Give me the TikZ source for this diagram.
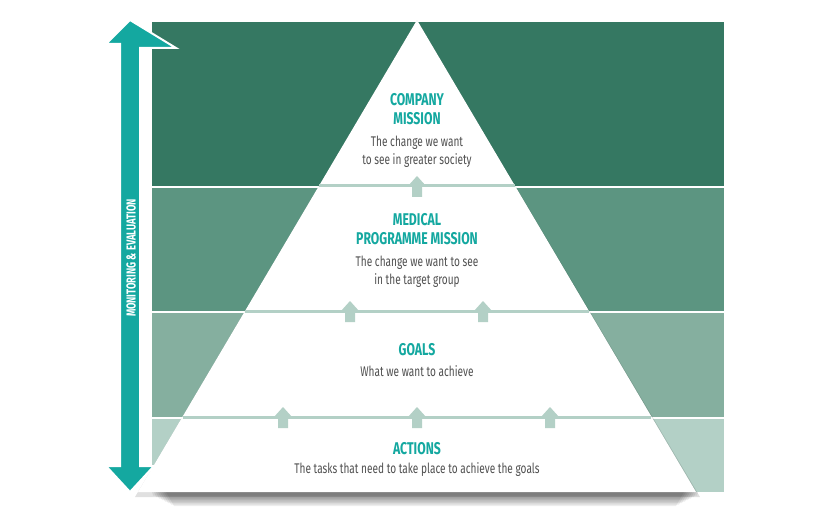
\documentclass[tikz,border=0pt]{standalone}
\usepackage{fontspec}
\setmainfont{Fira Sans}[FakeStretch=0.72]
\usetikzlibrary{positioning}
\definecolor{bandA}{HTML}{357862}
\definecolor{bandB}{HTML}{5C9581}
\definecolor{bandC}{HTML}{85AF9F}
\definecolor{bandD}{HTML}{B3D0C6}
\definecolor{teal}{HTML}{14A8A0}
\definecolor{body}{HTML}{505050}
\tikzset{
  title/.style = {text = teal, font = \fontsize{17}{19}\selectfont\bfseries, align = center, inner sep = 0pt},
  note/.style = {text = body, font = \fontsize{14}{18}\selectfont, align = center, inner sep = 0pt},
  sep/.style = {draw = bandD, line width = 3pt},
  up/.style = {fill = bandD}
}
\newcommand{\uparr}[2]{\fill[up] (#1-5,#2+11) -- (#1-5,#2) -- (#1-9,#2) -- (#1,#2-10) -- (#1+9,#2) -- (#1+5,#2) -- (#1+5,#2+11) -- cycle;}
\begin{document}
\begin{tikzpicture}[x=1pt,y=-1pt]
		\useasboundingbox (0,0) rectangle (831,516);
		% bands
		\fill[bandA] (152,22) rectangle (724,186);
		\fill[bandB] (152,188) rectangle (724,311);
		\fill[bandC] (152,313) rectangle (724,417);
		\fill[bandD] (152,419) rectangle (724,492);
		% shadow
		\foreach \i in {1,...,8} {
			\fill[black,opacity=0.07] (150+2*\i,492) -- (700-2*\i,492) -- (700-3*\i,494+1.5*\i) -- (150+3*\i,494+1.5*\i) -- cycle;
		}
		\fill[black,opacity=0.12] (417,20) -- (700,497) -- (135,497) -- cycle;
		% pyramid
		\fill[white] (417,20) -- (696,492) -- (138,492) -- cycle;
		\draw[sep] (319,186) -- (515,186);
		\draw[sep] (245,311) -- (589,311);
		\draw[sep] (183,417) -- (651,417);
		\uparr{417}{186}
		\uparr{350}{311}
		\uparr{483}{311}
		\uparr{283}{417}
		\uparr{417}{417}
		\uparr{550}{417}
		% monitoring arrow
		\draw[white,line width=2pt,fill=teal] (120,60) -- (120,466) -- (106,466) -- (130,492) -- (154,466) -- (140,466) -- (140,48) -- (176,48) -- (130,20) -- (106,44) -- (120,44) -- cycle;
		\node[rotate=90,text=white,font=\fontsize{13}{15}\selectfont\bfseries,inner sep=0pt] (monitor) at (131,258) {MONITORING \& EVALUATION};
		% texts
		\node[title] (mission) at (417,109) {COMPANY\\MISSION};
		\node[note] (missionTxt) at (417,152) {The change we want\\to see in greater society};
		\node[title] (medical) at (417,229) {MEDICAL\\PROGRAMME MISSION};
		\node[note] (medicalTxt) at (417,272) {The change we want to see\\in the target group};
		\node[title] (goals) at (417,350) {GOALS};
		\node[note] (goalsTxt) at (417,371) {What we want to achieve};
		\node[title] (actions) at (417,449) {ACTIONS};
		\node[note] (actionsTxt) at (417,470) {The tasks that need to take place to achieve the goals};
\end{tikzpicture}
\end{document}
